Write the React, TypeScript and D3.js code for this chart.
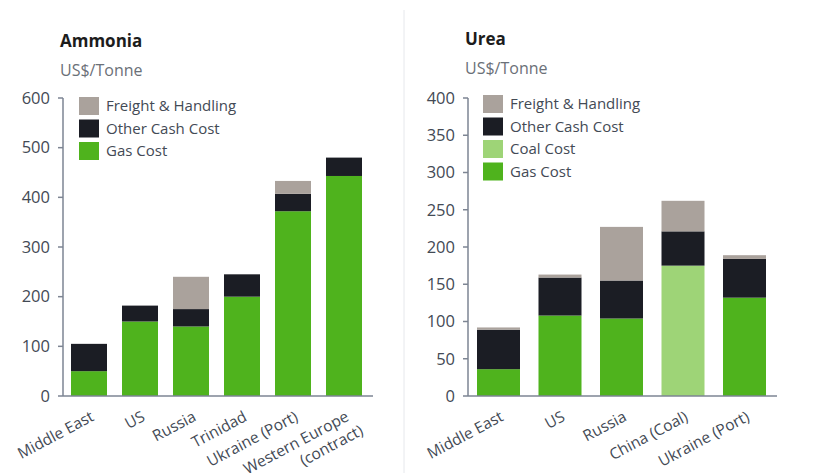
import React from "react";
import * as d3 from "d3";

const ammoniaCats = ["Middle East", "US", "Russia", "Trinidad", "Ukraine (Port)", "Western Europe\n(contract)"];
const ammoniaGas = [50, 150, 140, 200, 372, 443];
const ammoniaOther = [55, 32, 35, 45, 35, 37];
const ammoniaFreight = [0, 0, 65, 0, 26, 0];
const ammoniaTicks = [0, 100, 200, 300, 400, 500, 600];

const ureaCats = ["Middle East", "US", "Russia", "China (Coal)", "Ukraine (Port)"];
const ureaGas = [36, 108, 104, 0, 132];
const ureaCoal = [0, 0, 0, 175, 0];
const ureaOther = [53, 51, 51, 46, 52];
const ureaFreight = [3, 4, 72, 41, 5];
const ureaTicks = [0, 50, 100, 150, 200, 250, 300, 350, 400];

const COLORS = {
  freight: "#aaa29c",
  other: "#1b1d24",
  coal: "#9ed477",
  gas: "#4fb31d",
};
const TEXT = "#434a55";
const AXIS = "#7d8593";
const FONT = "'Open Sans', 'DejaVu Sans', sans-serif";

type Series = { key: string; label: string; values: number[]; color: string };

function Panel(props: {
  title: string;
  cats: string[];
  series: Series[];
  legend: Series[];
  ticks: number[];
  max: number;
  axisX: number;
  axisEnd: number;
  firstBar: number;
  step: number;
  barW: number;
  titleX: number;
  titleY: number;
  legendY: number;
  legendX: number;
}) {
  const { title, cats, series, legend, ticks, max, axisX, axisEnd, firstBar, step, barW, titleX, titleY, legendY, legendX } = props;
  const y = d3.scaleLinear().domain([0, max]).range([396, 98]);
  const x = d3
    .scaleBand<string>()
    .domain(cats)
    .range([firstBar - (step - barW) / 2, firstBar - (step - barW) / 2 + step * cats.length])
    .paddingInner((step - barW) / step)
    .paddingOuter((step - barW) / step / 2);
  const stackData = cats.map((c, i) => {
    const o: any = { cat: c };
    series.forEach((s) => (o[s.key] = s.values[i]));
    return o;
  });
  const stack = d3.stack<any>().keys(series.map((s) => s.key))(stackData);
  return (
    <g>
      <text x={titleX} y={titleY} fontFamily={FONT} fontSize={17} fontWeight="bold" fill="#1c1c1c">
        {title}
      </text>
      <text x={titleX} y={titleY + 29} fontFamily={FONT} fontSize={16} fill="#6b7078">
        US$/Tonne
      </text>
      {stack.map((layer, li) => (
        <g key={li}>
          {layer.map((d, i) => {
            const h = y(d[0]) - y(d[1]);
            if (h <= 0) return null;
            return (
              <rect
                key={i}
                x={x(cats[i])}
                y={y(d[1])}
                width={x.bandwidth()}
                height={h}
                fill={series[li].color}
              />
            );
          })}
        </g>
      ))}
      <line x1={axisX} x2={axisX} y1={y(max)} y2={y(0)} stroke={AXIS} strokeWidth={1.5} />
      <line x1={axisX} x2={axisEnd} y1={y(0)} y2={y(0)} stroke={AXIS} strokeWidth={1.5} />
      {ticks.map((t) => (
        <g key={t}>
          <line x1={axisX - 5} x2={axisX} y1={y(t)} y2={y(t)} stroke={AXIS} strokeWidth={1.5} />
          <text
            x={axisX - 13}
            y={y(t)}
            dy="0.35em"
            textAnchor="end"
            fontFamily={FONT}
            fontSize={16.5}
            fill={TEXT}
          >
            {t}
          </text>
        </g>
      ))}
      {legend.map((s, i) => (
        <g key={s.key}>
          <rect x={legendX} y={legendY + i * 22.5} width={20} height={18} fill={s.color} />
          <text
            x={legendX + 27}
            y={legendY + i * 22.5 + 9}
            dy="0.35em"
            fontFamily={FONT}
            fontSize={15}
            fill={TEXT}
          >
            {s.label}
          </text>
        </g>
      ))}
      {cats.map((c) => {
        const cx = (x(c) as number) + x.bandwidth() / 2;
        const lines = c.split("\n");
        return (
          <text
            key={c}
            transform={`translate(${cx + 6},${420}) rotate(-28)`}
            textAnchor="end"
            fontFamily={FONT}
            fontSize={15.5}
            fill={TEXT}
          >
            {lines.map((l, li) => (
              <tspan key={li} x={li === 0 ? 0 : 6} dy={li === 0 ? 0 : 19}>
                {l}
              </tspan>
            ))}
          </text>
        );
      })}
    </g>
  );
}

export default function App() {
  const ammoniaSeries: Series[] = [
    { key: "gas", label: "Gas Cost", values: ammoniaGas, color: COLORS.gas },
    { key: "other", label: "Other Cash Cost", values: ammoniaOther, color: COLORS.other },
    { key: "freight", label: "Freight & Handling", values: ammoniaFreight, color: COLORS.freight },
  ];
  const ureaSeries: Series[] = [
    { key: "gas", label: "Gas Cost", values: ureaGas, color: COLORS.gas },
    { key: "coal", label: "Coal Cost", values: ureaCoal, color: COLORS.coal },
    { key: "other", label: "Other Cash Cost", values: ureaOther, color: COLORS.other },
    { key: "freight", label: "Freight & Handling", values: ureaFreight, color: COLORS.freight },
  ];
  return (
    <svg
      width={830}
      height={473}
      style={{ position: "absolute", left: 0, top: 0, background: "#fff" }}
    >
      <line x1={404} x2={404} y1={10} y2={473} stroke="#e6e8ec" strokeWidth={1} />
      <Panel
        title="Ammonia"
        cats={ammoniaCats}
        series={ammoniaSeries}
        legend={[ammoniaSeries[2], ammoniaSeries[1], ammoniaSeries[0]]}
        ticks={ammoniaTicks}
        max={600}
        axisX={63}
        axisEnd={373}
        firstBar={71}
        step={51}
        barW={36}
        titleX={60}
        titleY={47}
        legendX={79}
        legendY={97}
      />
      <Panel
        title="Urea"
        cats={ureaCats}
        series={ureaSeries}
        legend={[ureaSeries[3], ureaSeries[2], ureaSeries[1], ureaSeries[0]]}
        ticks={ureaTicks}
        max={400}
        axisX={468}
        axisEnd={777}
        firstBar={477}
        step={61.5}
        barW={43}
        titleX={465}
        titleY={45}
        legendX={483}
        legendY={95}
      />
    </svg>
  );
}
